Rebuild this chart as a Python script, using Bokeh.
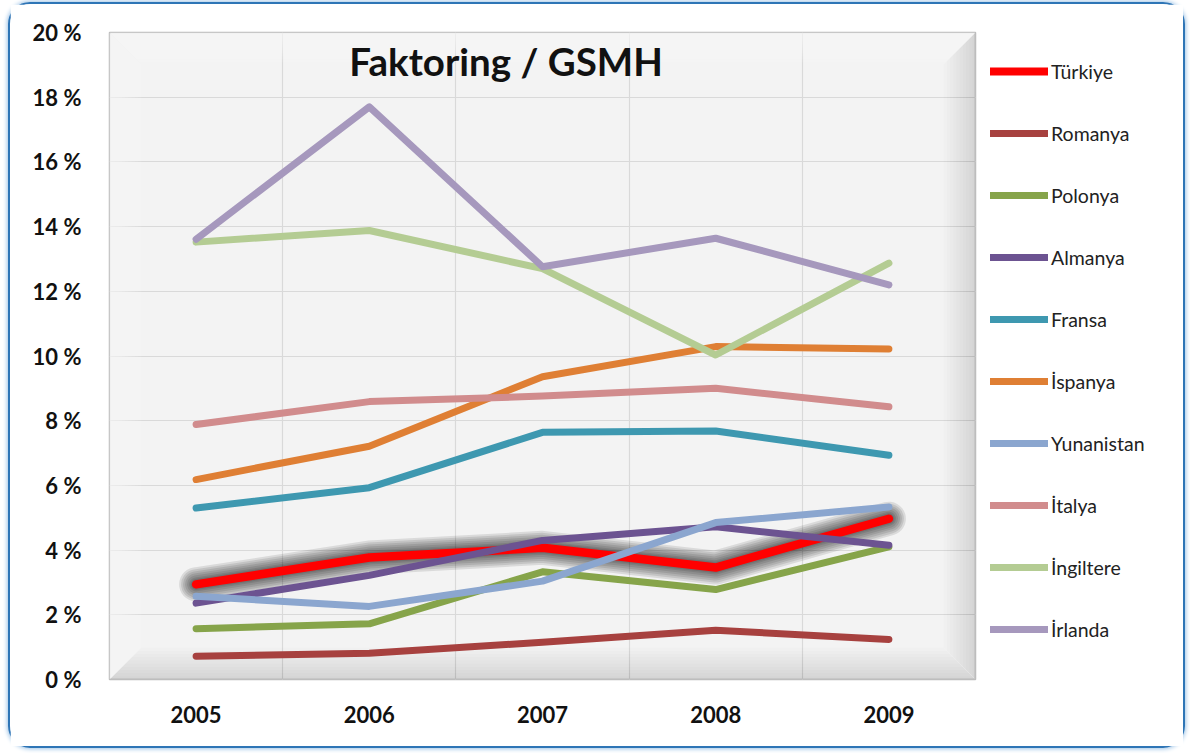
from bokeh.plotting import figure
from bokeh.layouts import row
from bokeh.models import Range1d, FixedTicker, PrintfTickFormatter, Legend, LegendItem, Label
from bokeh.embed import file_html
from bokeh.resources import INLINE

# ---------------- data ----------------
years = [2005, 2006, 2007, 2008, 2009]
y_ticks = [0, 2, 4, 6, 8, 10, 12, 14, 16, 18, 20]

turkiye = [2.94, 3.77, 4.07, 3.46, 4.97]
romanya = [0.72, 0.81, 1.15, 1.52, 1.24]
polonya = [1.57, 1.72, 3.33, 2.78, 4.10]
almanya = [2.36, 3.22, 4.30, 4.72, 4.15]
fransa = [5.30, 5.93, 7.64, 7.68, 6.93]
ispanya = [6.18, 7.21, 9.36, 10.29, 10.22]
yunanistan = [2.57, 2.26, 3.04, 4.85, 5.33]
italya = [7.88, 8.59, 8.76, 9.00, 8.43]
ingiltere = [13.52, 13.88, 12.70, 10.03, 12.87]
irlanda = [13.61, 17.70, 12.76, 13.64, 12.20]

series_names = ["Türkiye", "Romanya", "Polonya", "Almanya", "Fransa",
                "İspanya", "Yunanistan", "İtalya", "İngiltere", "İrlanda"]
series_values = [turkiye, romanya, polonya, almanya, fransa,
                 ispanya, yunanistan, italya, ingiltere, irlanda]
series_colors = ["#FF0000", "#A7413F", "#86A44A", "#6C5391", "#3E98B0",
                 "#DF7F34", "#8BA6CF", "#D18C8D", "#B4CC93", "#A698BD"]
title_text = "Faktoring / GSMH"

# ---------------- main figure ----------------
H = 742
W1, W2 = 967, 206
ML, MR, MT, MB = 99, 2, 28, 67
font = "Lato"

p = figure(width=W1, height=H, output_backend="svg", toolbar_location=None,
           x_range=Range1d(2004.5, 2009.5), y_range=Range1d(0, 20),
           min_border_left=ML, min_border_right=MR, min_border_top=MT, min_border_bottom=MB)
p.background_fill_color = "#F3F3F3"
p.border_fill_color = "white"
p.outline_line_color = "#BDBDBD"
p.outline_line_width = 1.5

p.xaxis.ticker = FixedTicker(ticks=years)
p.yaxis.ticker = FixedTicker(ticks=y_ticks)
p.yaxis.formatter = PrintfTickFormatter(format="%d %%")
for ax in (p.xaxis[0], p.yaxis[0]):
    ax.axis_line_color = None
    ax.major_tick_line_color = None
    ax.minor_tick_line_color = None
    ax.major_tick_in = 0
    ax.major_tick_out = 0
    ax.major_label_text_font = font
    ax.major_label_text_font_style = "bold"
    ax.major_label_text_font_size = "22px"
    ax.major_label_text_color = "#111111"
p.yaxis.major_label_standoff = 28
p.xaxis.major_label_standoff = 26

p.xgrid.ticker = FixedTicker(ticks=[y + 0.5 for y in years[:-1]])
p.ygrid.ticker = FixedTicker(ticks=y_ticks)
p.xgrid.grid_line_color = "#D9D9D9"
p.ygrid.grid_line_color = "#D9D9D9"
p.xgrid.grid_line_width = 1.2
p.ygrid.grid_line_width = 1.2

# bevel effect on the plot area (decoration)
fw = W1 - ML - MR
fh = H - MT - MB
L, R, B, T = 2004.5, 2009.5, 0.0, 20.0
px = (R - L) / fw
py = (T - B) / fh

def bevel(side, depth, n, color, alpha):
    xs, ys = [], []
    for i in range(n):
        d = depth * (i + 1) / n
        dx, dy = d * px, d * py
        if side == "top":
            xs.append([L, R, R - dx, L + dx]); ys.append([T, T, T - dy, T - dy])
        elif side == "bottom":
            xs.append([L, R, R - dx, L + dx]); ys.append([B, B, B + dy, B + dy])
        elif side == "left":
            xs.append([L, L, L + dx, L + dx]); ys.append([B, T, T - dy, B + dy])
        else:
            xs.append([R, R, R - dx, R - dx]); ys.append([B, T, T - dy, B + dy])
    p.patches(xs, ys, fill_color=color, fill_alpha=alpha, line_color=None)

bevel("top", 30, 10, "white", 0.09)
bevel("left", 32, 10, "white", 0.08)
bevel("bottom", 32, 10, "black", 0.012)
bevel("right", 32, 10, "black", 0.012)

# glow behind Türkiye
for w in [34, 30, 26, 22, 18, 14, 11]:
    p.line(years, turkiye, line_color="black", line_alpha=0.1, line_width=w,
           line_join="round", line_cap="round")

for name, vals, col in zip(series_names, series_values, series_colors):
    lw = 8.5 if name == "Türkiye" else 7
    p.line(years, vals, line_color=col, line_width=lw, line_join="round", line_cap="round")

title = Label(x=2006.79, y=19.13, text=title_text, text_font=font, text_font_style="bold",
              text_font_size="38.5px", text_align="center", text_baseline="alphabetic",
              text_color="#111111")
p.add_layout(title)

# ---------------- legend panel ----------------
q = figure(width=W2, height=H, output_backend="svg", toolbar_location=None,
           x_range=Range1d(0, 1), y_range=Range1d(0, 1),
           x_axis_type=None, y_axis_type=None,
           min_border_left=0, min_border_right=0, min_border_top=0, min_border_bottom=0)
q.grid.visible = False
q.outline_line_color = None
q.background_fill_color = "white"
q.border_fill_color = "white"

items = []
for name, col in zip(series_names, series_colors):
    lw = 8 if name == "Türkiye" else 7
    r = q.line([5, 6], [5, 6], line_color=col, line_width=lw, line_cap="round")
    items.append(LegendItem(label=name, renderers=[r]))

item_h, item_gap = 48, 14
n_items = len(items)
leg_h = n_items * item_h + (n_items - 1) * item_gap
leg_top = 110
legend = Legend(items=items, location=(13, H - leg_top - leg_h), orientation="vertical")
legend.margin = 0
legend.padding = 0
legend.spacing = item_gap
legend.glyph_width = 58
legend.glyph_height = item_h
legend.label_height = item_h
legend.label_standoff = 3
legend.label_text_font = font
legend.label_text_font_size = "19.5px"
legend.label_text_color = "#222222"
legend.border_line_color = None
legend.background_fill_alpha = 0
q.add_layout(legend)

layout = row(p, q, spacing=0)
layout.styles = {"border": "2px solid #2E75B6", "border-radius": "22px",
                 "box-shadow": "0 0 4px 1px #9DC3E6",
                 "margin-left": "8px", "margin-top": "2px"}

open("out.html", "w").write(file_html(layout, INLINE))
